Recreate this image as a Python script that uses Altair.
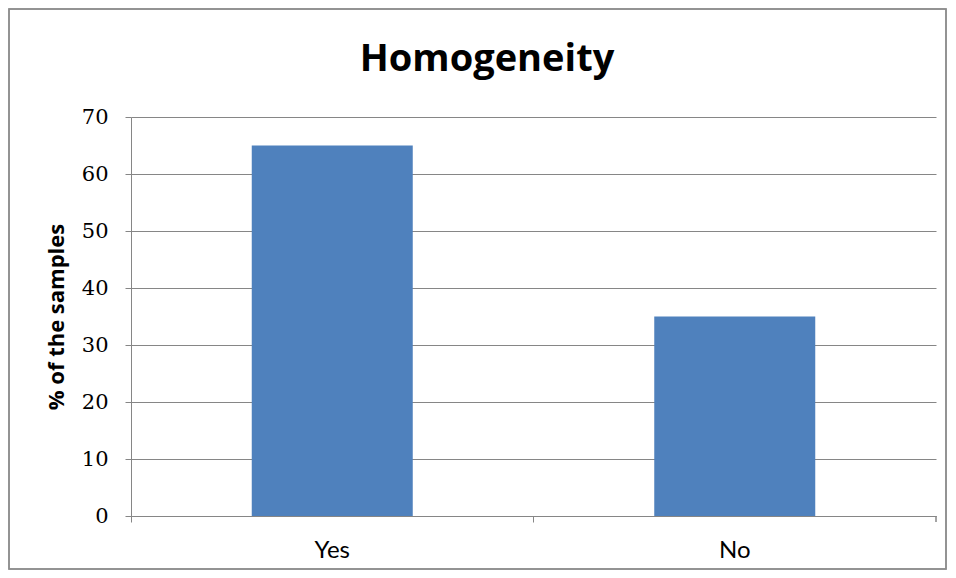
import altair as alt
import pandas as pd

categories = ["Yes", "No"]
values = [65, 35]
title_text = "Homogeneity"
y_title = "% of the samples"

df = pd.DataFrame({"answer": categories, "pct": values})

W, H = 805, 399
PL, PT, PR, PB = 123, 109, 12, 54

bars = alt.Chart(df).mark_bar(size=161, color="#4F81BD").encode(
    x=alt.X("answer:N", sort=categories, title=None,
            scale=alt.Scale(paddingInner=0, paddingOuter=0),
            axis=alt.Axis(labelAngle=0, bandPosition=0, labelFont="Lato",
                          labelFontSize=24, labelColor="#000000", labelPadding=16,
                          tickSize=6, tickColor="#868686", domainColor="#868686",
                          grid=False)),
    y=alt.Y("pct:Q", title=y_title, scale=alt.Scale(domain=[0, 70], nice=False),
            axis=alt.Axis(values=[0, 10, 20, 30, 40, 50, 60, 70], labelFont="DejaVu Serif",
                          labelFontSize=21, labelColor="#000000", labelPadding=17,
                          tickSize=6, tickColor="#868686", domainColor="#868686",
                          gridColor="#868686", titleFont="Open Sans", titleFontSize=22,
                          titleFontWeight="bold", titleColor="#000000", titlePadding=13)),
)

endtick = alt.Chart(df).mark_rule(color="#868686").encode(
    x=alt.value(W), y=alt.value(H), y2=alt.value(H + 6)
)

frame = alt.Chart(df).mark_rect(fill=None, stroke="#8c8c8c", strokeWidth=1.5, clip=False).encode(
    x=alt.value(-PL + 1), x2=alt.value(W + PR - 2), y=alt.value(-PT + 1), y2=alt.value(H + PB - 1)
)

title = alt.Chart(pd.DataFrame({"t": [title_text]})).mark_text(
    font="Open Sans", fontSize=38, fontWeight="bold", color="#000000",
    align="center", baseline="middle"
).encode(text="t:N", x=alt.value(356), y=alt.value(-57))

chart = alt.layer(bars, endtick, frame, title).properties(
    width=W, height=H,
    autosize=alt.AutoSizeParams(type="none"),
    padding={"left": PL, "top": PT, "right": PR, "bottom": PB},
).configure_view(stroke=None)

chart.save("out.html", embed_options={"renderer": "svg", "actions": False})
